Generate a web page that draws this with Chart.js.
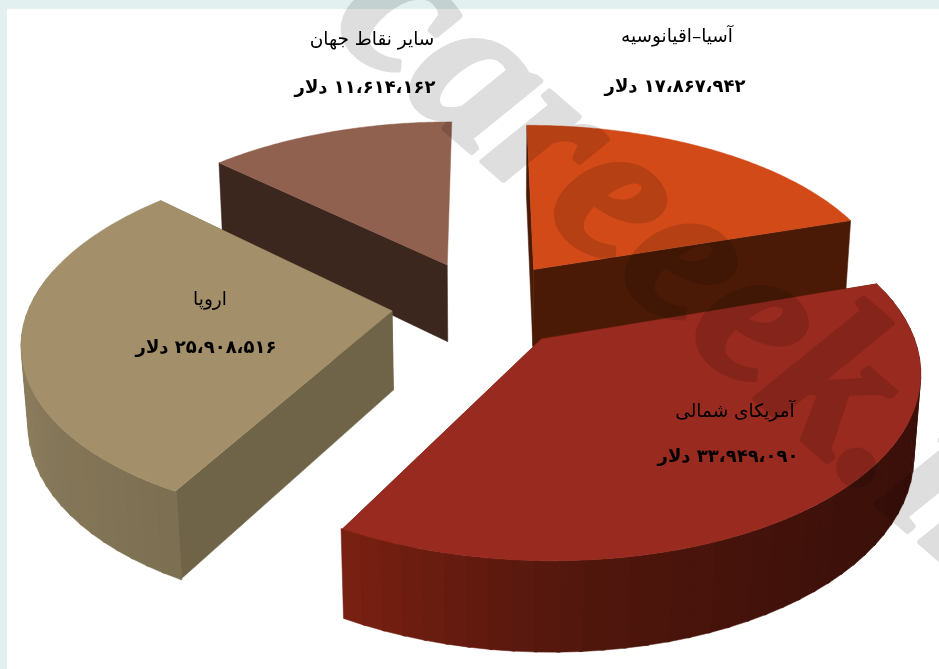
<!DOCTYPE html>
<html lang="fa">
<head>
<meta charset="utf-8">
<title>صادرات</title>
<style>
  html, body { margin: 0; padding: 0; background: #fff; }
  #frame { position: absolute; left: 0; top: 0; width: 932px; height: 660px; background: #fff;
           border-left: 7px solid #e2f1f0; border-top: 9px solid #e2f1f0; }
  #pie { position: absolute; left: 0; top: 0; }
</style>
</head>
<body>
<div id="frame"></div>
<canvas id="pie" width="939" height="669"></canvas>
<script src="https://cdn.jsdelivr.net/npm/chart.js@4"></script>
<script>
const regions = ["آسیا–اقیانوسیه", "آمریکای شمالی", "اروپا", "سایر نقاط جهان"]
const sales = [17867942, 33949090, 25908516, 11614162]
const unit = "دلار"

const topColors = ["#d14a17", "#992a1f", "#a3906b", "#91614f"]
// wall colours spread evenly along each slice's rim
const rimColors = [
  ["#541e08", "#541e08"],
  ["#3a100a", "#3a100a", "#3e110a", "#4f160c", "#7a2012"],
  ["#7d6f52", "#8c7e5e", "#95876a"],
  ["#3c271f", "#3c271f"]
]
const sideColors = ["#4a1a06", "#541e08", "#6f6448", "#3c271f"]

// label centres: [title x, title y, value x, value y]
const labelSpots = [
  [677, 37, 675, 87],
  [735, 412, 728, 457],
  [210, 300, 206, 348],
  [372, 40, 365, 88]
]

// camera for the tilted pie
const cam = { cx: 482, cy: 304, f: 362, lift: 176, depth: 80, k: 0.153, sink: 0.015 }
const explode = 0.25

function project(X, Y, d) {
  const w = 1 + cam.k * Y + cam.sink * d
  return [cam.cx + cam.f * X / w, cam.cy + (-cam.lift * Y + cam.depth * d) / w]
}

function hexRgb(h) {
  return [1, 3, 5].map(i => parseInt(h.substr(i, 2), 16))
}

function mix(stops, t) {
  const p = t * (stops.length - 1)
  const i = Math.min(Math.floor(p), stops.length - 2)
  const a = hexRgb(stops[i]), b = hexRgb(stops[i + 1])
  const c = a.map((v, n) => Math.round(v + (b[n] - v) * (p - i)))
  return `rgb(${c[0]},${c[1]},${c[2]})`
}

function fillPoly(ctx, pts, color) {
  ctx.beginPath()
  pts.forEach((p, i) => i ? ctx.lineTo(p[0], p[1]) : ctx.moveTo(p[0], p[1]))
  ctx.closePath()
  ctx.fillStyle = color
  ctx.strokeStyle = color
  ctx.lineWidth = 0.5
  ctx.fill()
  ctx.stroke()
}

function drawSlice(ctx, arc, i) {
  const a0 = arc.startAngle + Math.PI / 2
  const a1 = arc.endAngle + Math.PI / 2
  const mid = (a0 + a1) / 2
  const ox = explode * Math.sin(mid), oy = explode * Math.cos(mid)
  const rim = a => [ox + Math.sin(a), oy + Math.cos(a)]

  const faces = []
  const wall = (p, q, color) => {
    faces.push({
      y: (p[1] + q[1]) / 2,
      pts: [project(p[0], p[1], 0), project(q[0], q[1], 0), project(q[0], q[1], 1), project(p[0], p[1], 1)],
      color
    })
  }
  const hub = [ox, oy]
  // a radial face seen almost edge-on is left out
  ;[a0, a1].forEach(a => {
    if (Math.abs(project(...hub, 0)[0] - project(...rim(a), 0)[0]) > 5) wall(hub, rim(a), sideColors[i])
  })

  const steps = Math.ceil((a1 - a0) / (Math.PI / 60))
  const lap = 0.004
  for (let s = 0; s < steps; s++) {
    const t0 = a0 + (a1 - a0) * s / steps - lap
    const t1 = a0 + (a1 - a0) * (s + 1) / steps + lap
    // rim strips on the far side face away from the camera
    if (Math.cos((t0 + t1) / 2) > 0.25) continue
    wall(rim(t0), rim(t1), mix(rimColors[i], (s + 0.5) / steps))
  }
  faces.sort((p, q) => q.y - p.y).forEach(f => fillPoly(ctx, f.pts, f.color))

  const top = [project(ox, oy, 0)]
  for (let s = 0; s <= 90; s++) {
    const p = rim(a0 + (a1 - a0) * s / 90)
    top.push(project(p[0], p[1], 0))
  }
  fillPoly(ctx, top, topColors[i])
}

function persianAmount(v) {
  const grouped = String(v).replace(/\B(?=(\d{3})+$)/g, "،")
  return grouped.replace(/\d/g, d => "۰۱۲۳۴۵۶۷۸۹"[d]) + " " + unit
}

// site stamp, thickened on its own layer so fill and outline don't add up
function drawStamp(ctx) {
  const layer = document.createElement("canvas")
  layer.width = ctx.canvas.width
  layer.height = ctx.canvas.height
  const g = layer.getContext("2d")
  g.translate(329, 28)
  g.rotate(41 * Math.PI / 180)
  g.font = "italic bold 211px 'Liberation Serif'"
  g.lineJoin = "round"
  g.lineWidth = 6
  g.fillText("careeek.ir", 0, 0)
  g.strokeText("careeek.ir", 0, 0)
  ctx.save()
  ctx.globalAlpha = 0.13
  ctx.drawImage(layer, 0, 0)
  ctx.restore()
}

const solidPie = {
  id: "solidPie",
  beforeDatasetDraw(chart, args) {
    const ctx = chart.ctx
    const arcs = chart.getDatasetMeta(args.index).data
    const order = arcs.map((a, i) => i).sort((p, q) => {
      const m = n => Math.cos((arcs[n].startAngle + arcs[n].endAngle) / 2 + Math.PI / 2)
      return m(q) - m(p)
    })
    ctx.save()
    order.forEach(i => drawSlice(ctx, arcs[i], i))
    ctx.restore()
    return false
  },
  afterDraw(chart) {
    const ctx = chart.ctx
    drawStamp(ctx)

    ctx.save()
    ctx.fillStyle = "#000"
    ctx.textAlign = "center"
    ctx.textBaseline = "middle"
    ctx.direction = "rtl"
    regions.forEach((name, i) => {
      const s = labelSpots[i]
      ctx.font = "18.5px 'DejaVu Sans'"
      ctx.fillText(name, s[0], s[1])
      ctx.font = "bold 18px 'DejaVu Sans'"
      ctx.fillText(persianAmount(sales[i]), s[2], s[3])
    })
    ctx.restore()
  }
}

new Chart(document.getElementById("pie"), {
  type: "pie",
  data: {
    labels: regions,
    datasets: [{ data: sales, backgroundColor: topColors, borderWidth: 0 }]
  },
  options: {
    responsive: false,
    animation: false,
    events: [],
    plugins: { legend: { display: false }, tooltip: { enabled: false } }
  },
  plugins: [solidPie]
})
</script>
</body>
</html>
